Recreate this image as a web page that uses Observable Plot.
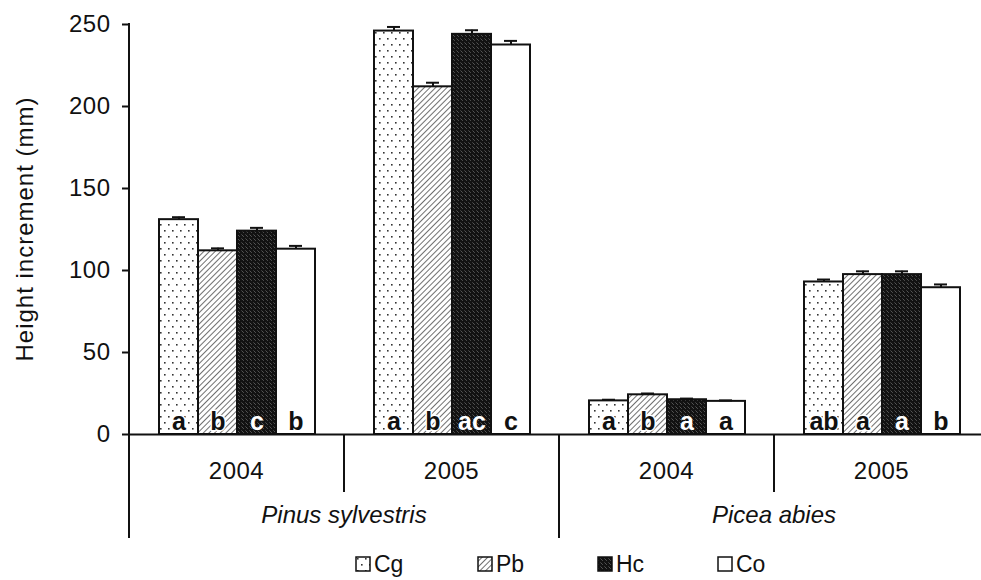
<!DOCTYPE html>
<html>
<head>
<meta charset="utf-8">
<script src="https://cdn.jsdelivr.net/npm/d3@7"></script>
<script src="https://cdn.jsdelivr.net/npm/@observablehq/plot@0.6"></script>
<style>
  html, body { margin: 0; padding: 0; background: #fff; overflow: hidden; }
  #wrap { width: 981px; height: 580px; overflow: hidden; position: relative; font-family: "Liberation Sans", Arial, sans-serif; }
  #legend { position: absolute; left: 0; top: 550px; width: 981px; height: 28px; }
  .item { position: absolute; top: 0; display: flex; align-items: center; height: 28px; font-size: 23px; line-height: 26px; color: #111; }
  .item svg { margin-right: 3px; }
</style>
</head>
<body>
<div id="wrap"><div id="chart"></div><div id="legend"></div></div>
<script>
// ---- data ----
const treatments = ["Cg", "Pb", "Hc", "Co"];
const groupSpecies = ["Pinus sylvestris", "Pinus sylvestris", "Picea abies", "Picea abies"];
const groupYears = ["2004", "2005", "2004", "2005"];
const means = [
  [131, 112, 124, 113],
  [246, 212, 244, 237.5],
  [20.5, 24.2, 21.2, 20.2],
  [93, 97.5, 97.5, 89.5]
];
const errors = [
  [1.5, 1.5, 2, 2],
  [2.5, 2.5, 2.5, 2.5],
  [0.7, 0.8, 0.7, 0.6],
  [1.5, 2, 2, 2]
];
const letters = [
  ["a", "b", "c", "b"],
  ["a", "b", "ac", "c"],
  ["a", "b", "a", "a"],
  ["ab", "a", "a", "b"]
];
const yTicks = [0, 50, 100, 150, 200, 250];
const yLabel = "Height increment (mm)";
const fills = ["url(#pCg)", "url(#pPb)", "url(#pHc)", "#ffffff"];

const groupKeys = groupSpecies.map((s, i) => s + " " + groupYears[i]);
const data = [];
groupKeys.forEach((k, i) => treatments.forEach((t, j) => data.push({
  key: k, treat: t, value: means[i][j], err: errors[i][j], letter: letters[i][j]
})));

const font = '"Liberation Sans", Arial, sans-serif';

const plot = Plot.plot({
  width: 990, height: 548,
  marginLeft: 127, marginRight: 0, marginTop: 24, marginBottom: 114,
  style: { fontFamily: font, fontSize: "24px", color: "#111", background: "white", maxWidth: "none", overflow: "visible" },
  fx: { domain: groupKeys, padding: 0, axis: null, label: null },
  x: { domain: treatments, paddingInner: 0, paddingOuter: 0.75, axis: null, label: null },
  y: { domain: [0, 250], axis: null },
  color: { type: "ordinal", domain: treatments, range: fills },
  marks: [
    Plot.axisY({ ticks: yTicks, tickSize: 7, tickPadding: 12, strokeWidth: 2, label: null, fontSize: 24 }),
    Plot.barY(data, { fx: "key", x: "treat", y: "value", fill: "treat", stroke: "#111", strokeWidth: 2 }),
    Plot.ruleX(data, { fx: "key", x: "treat", y1: "value", y2: d => d.value + d.err, stroke: "#111", strokeWidth: 2 }),
    Plot.tickY(data, { fx: "key", x: "treat", y: d => d.value + d.err, insetLeft: 13, insetRight: 13, stroke: "#111", strokeWidth: 2 }),
    Plot.ruleY([0], { stroke: "#111", strokeWidth: 2 }),
    Plot.text(data.filter(d => d.treat !== "Hc"), { fx: "key", x: "treat", y: 0, text: "letter", lineAnchor: "bottom", dy: -5, fontWeight: "bold", fontSize: 25, fill: "#111", stroke: "white", strokeWidth: 3 }),
    Plot.text(data.filter(d => d.treat === "Hc"), { fx: "key", x: "treat", y: 0, text: "letter", lineAnchor: "bottom", dy: -5, fontWeight: "bold", fontSize: 25, fill: "white" })
  ]
});

document.getElementById("chart").appendChild(plot);
d3.select(plot).selectAll("g[aria-label='y-axis tick label'] text").attr("letter-spacing", "0.5px");

// ---- patterns ----
const svg = d3.select(plot);
const defs = svg.insert("defs", ":first-child");
function addPatterns(defs, suffix) {
  const cg = defs.append("pattern").attr("id", "pCg" + suffix).attr("patternUnits", "userSpaceOnUse").attr("width", 8).attr("height", 12);
  cg.append("rect").attr("width", 8).attr("height", 12).attr("fill", "#fff");
  cg.append("rect").attr("x", 2).attr("y", 2).attr("width", 1.6).attr("height", 1.6).attr("fill", "#333");
  cg.append("rect").attr("x", 6).attr("y", 8).attr("width", 1.6).attr("height", 1.6).attr("fill", "#333");
  const pb = defs.append("pattern").attr("id", "pPb" + suffix).attr("patternUnits", "userSpaceOnUse").attr("width", 4).attr("height", 4).attr("patternTransform", "rotate(45)");
  pb.append("rect").attr("width", 4).attr("height", 4).attr("fill", "#fff");
  pb.append("line").attr("x1", 0).attr("y1", 0).attr("x2", 0).attr("y2", 4).attr("stroke", "#222").attr("stroke-width", 1.3);
  const hc = defs.append("pattern").attr("id", "pHc" + suffix).attr("patternUnits", "userSpaceOnUse").attr("width", 4).attr("height", 4);
  hc.append("rect").attr("width", 4).attr("height", 4).attr("fill", "#121212");
  hc.append("rect").attr("x", 1).attr("y", 0).attr("width", 1).attr("height", 1).attr("fill", "#4a4a4a");
  hc.append("rect").attr("x", 3).attr("y", 2).attr("width", 1).attr("height", 1).attr("fill", "#3a3a3a");
  hc.append("rect").attr("x", 0).attr("y", 3).attr("width", 1).attr("height", 1).attr("fill", "#555");
}
addPatterns(defs, "");

// ---- hierarchical category axis using the plot's scales ----
const fx = plot.scale("fx");
const ys = plot.scale("y");
const bw = fx.bandwidth;
const y0 = ys.apply(0);
const yTop = ys.apply(250);
const g = svg.append("g").attr("stroke", "#111").attr("stroke-width", 2);
const left0 = fx.apply(groupKeys[0]);
// y axis line (extends below the baseline)
g.append("line").attr("x1", left0).attr("x2", left0).attr("y1", yTop - 1).attr("y2", y0 + 104);
groupKeys.forEach((k, i) => {
  const x = fx.apply(k);
  if (i > 0) {
    const long = groupSpecies[i] !== groupSpecies[i - 1];
    g.append("line").attr("x1", x).attr("x2", x).attr("y1", y0).attr("y2", y0 + (long ? 104 : 58));
  }
  svg.append("text").attr("x", x + bw / 2).attr("y", y0 + 45).attr("text-anchor", "middle")
    .attr("font-size", 24).attr("fill", "#111").attr("letter-spacing", "0.5px").text(groupYears[i]);
});
const lastX = fx.apply(groupKeys[groupKeys.length - 1]) + bw;
g.append("line").attr("x1", lastX).attr("x2", lastX).attr("y1", y0).attr("y2", y0 + 104);
// species labels
const speciesList = Array.from(new Set(groupSpecies));
speciesList.forEach(s => {
  const ks = groupKeys.filter((k, i) => groupSpecies[i] === s);
  const x1 = fx.apply(ks[0]);
  const x2 = fx.apply(ks[ks.length - 1]) + bw;
  svg.append("text").attr("x", (x1 + x2) / 2).attr("y", y0 + 89).attr("text-anchor", "middle")
    .attr("font-size", 24).attr("font-style", "italic").attr("fill", "#111").text(s);
});
// y axis title
svg.append("text").attr("transform", `translate(${left0 - 96},${(y0 + yTop) / 2}) rotate(-90)`)
  .attr("text-anchor", "middle").attr("font-size", 24).attr("fill", "#111").attr("letter-spacing", "1px").text(yLabel);

// ---- legend ----
const color = plot.scale("color");
const legend = d3.select("#legend");
const legendLeft = [355, 477, 597, 717];
color.domain.forEach((t, i) => {
  const item = legend.append("div").attr("class", "item").style("left", legendLeft[i] + "px");
  const sw = item.append("svg").attr("width", 16).attr("height", 16);
  const d2 = sw.append("defs");
  addPatterns(d2, "L" + i);
  const f = color.range[i].startsWith("url") ? color.range[i].replace(")", "L" + i + ")") : color.range[i];
  sw.append("rect").attr("x", 1).attr("y", 1).attr("width", 14).attr("height", 14).attr("fill", f).attr("stroke", "#111").attr("stroke-width", 1.5);
  item.append("span").text(t);
});
</script>
</body>
</html>
